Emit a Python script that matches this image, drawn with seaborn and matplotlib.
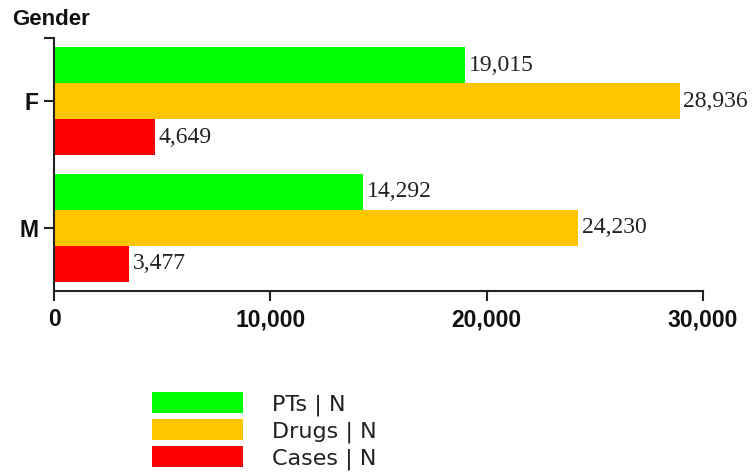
import matplotlib
matplotlib.use("Agg")
import matplotlib.pyplot as plt
import seaborn as sns
import pandas as pd
from matplotlib.patches import Patch
from matplotlib import font_manager as fm

# Counts per gender for each measure
genders = ["F", "M"]
measures = ["PTs | N", "Drugs | N", "Cases | N"]
pts = [19015, 14292]
drugs = [28936, 24230]
cases = [4649, 3477]
colors = ["#00FF00", "#FFC600", "#FF0000"]
x_ticks = [0, 10000, 20000, 30000]

rows = []
for g, p, d, c in zip(genders, pts, drugs, cases):
    rows += [(g, measures[0], p), (g, measures[1], d), (g, measures[2], c)]
df = pd.DataFrame(rows, columns=["Gender", "Measure", "N"])

sns.set_theme(style="white")
plt.rcParams["font.family"] = ["DejaVu Sans"]

fig = plt.figure(figsize=(7.52, 4.74), dpi=100)
ax = fig.add_axes([54 / 752, 1 - 291 / 474, (703 - 54) / 752, (291 - 38) / 474])

sns.barplot(data=df, y="Gender", x="N", hue="Measure", order=genders,
            hue_order=measures, palette=colors, orient="h", width=0.857,
            linewidth=0, saturation=1, ax=ax, legend=False)

label_fp = fm.FontProperties(family="Liberation Serif", size=17)
for cont in ax.containers:
    vals = [bar.get_width() for bar in cont]
    ax.bar_label(cont, labels=[f"{int(v):,}" for v in vals], padding=2.5,
                 fontproperties=label_fp, color="#222222")

ax.set_xlim(0, 30000)
ax.set_ylim(1.5, -0.5)
ax.set_xticks(x_ticks)
ax.set_xticklabels([f"{t:,}" for t in x_ticks])
ax.set_yticks([-0.5], minor=True)
ax.set_xlabel("")
ax.set_ylabel("")

for s in ["top", "right"]:
    ax.spines[s].set_visible(False)
for s in ["left", "bottom"]:
    ax.spines[s].set_color("#222222")
    ax.spines[s].set_linewidth(1.5)

tick_fp = fm.FontProperties(family="Liberation Sans", weight="bold", size=16.5)
ax.tick_params(axis="x", which="major", length=7.5, width=1.5, color="#222222", pad=5, bottom=True)
ax.tick_params(axis="y", which="both", length=7.5, width=1.5, color="#222222", pad=4, left=True)
for lab in ax.get_xticklabels() + ax.get_yticklabels():
    lab.set_fontproperties(tick_fp)
    lab.set_color("#111111")

title_fp = fm.FontProperties(family="Liberation Sans", weight="bold", size=16)
fig.text(12 / 752, 1 - 19.5 / 474, "Gender", ha="left", va="center",
         fontproperties=title_fp, color="#111111")

handles = [Patch(facecolor=c, edgecolor="none") for c in colors]
fig.legend(handles, measures, loc="upper left",
           bbox_to_anchor=(152 / 752, 1 - 392 / 474), frameon=False,
           fontsize=16, handlelength=4.1, handleheight=1.1, labelspacing=0.15,
           handletextpad=1.3, borderpad=0, borderaxespad=0, labelcolor="#222222")

fig.savefig("out.png", dpi=100)
